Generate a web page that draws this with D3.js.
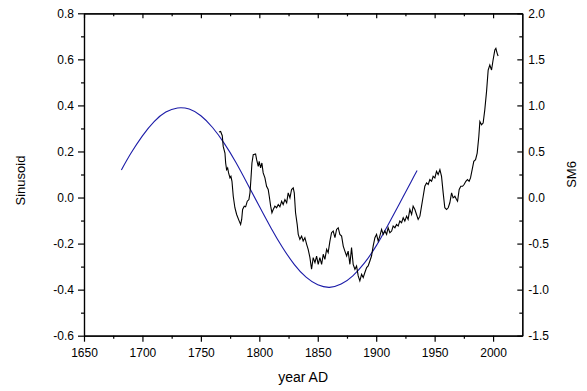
<!DOCTYPE html>
<html>
<head>
<meta charset="utf-8">
<script src="https://cdn.jsdelivr.net/npm/d3@7"></script>
<style>
  body { margin: 0; background: #fff; }
  text { font-family: Arial, "Liberation Sans", sans-serif; }
</style>
</head>
<body>
<div id="chart"></div>
<script>
// sinusoid (left axis)
var sinYears = [1682, 1690, 1700, 1710, 1720, 1730, 1740, 1750, 1760, 1770, 1780, 1790, 1800,
  1810, 1820, 1830, 1840, 1850, 1860, 1870, 1880, 1890, 1900, 1910, 1920, 1930, 1935];
var sinValues = [0.120, 0.191, 0.268, 0.330, 0.371, 0.389, 0.384, 0.355, 0.304, 0.235, 0.152, 0.058, -0.038,
  -0.132, -0.218, -0.291, -0.346, -0.379, -0.390, -0.376, -0.340, -0.284, -0.210, -0.120, -0.026, 0.070, 0.117];

// SM6 (right axis)
var smYears = [1765.5, 1766.9, 1768.3, 1769.1, 1770.6, 1771.2, 1772.0, 1772.9, 1773.7, 1774.9, 1775.7, 1776.6,
  1777.7, 1779.1, 1780.6, 1782.8, 1784.0, 1784.9, 1785.7, 1787.1, 1788.3, 1789.7, 1791.1, 1792.0, 1792.8,
  1793.7, 1794.8, 1796.8, 1797.7, 1799.1, 1799.9, 1801.1, 1802.2, 1803.3, 1804.8, 1806.2, 1807.6, 1808.5,
  1809.7, 1810.8, 1811.9, 1813.3, 1814.8, 1816.2, 1817.6, 1819.1, 1820.4, 1821.9, 1823.4, 1824.7, 1826.2,
  1827.6, 1829.0, 1829.9, 1831.0, 1832.4, 1833.3, 1834.7, 1836.2, 1837.5, 1839.0, 1840.5, 1841.8, 1843.3,
  1844.7, 1846.1, 1847.6, 1849.0, 1850.4, 1851.8, 1853.3, 1854.7, 1856.1, 1857.6, 1858.9, 1860.4, 1861.8,
  1863.2, 1864.7, 1866.1, 1867.5, 1868.9, 1870.4, 1871.8, 1873.2, 1874.7, 1876.0, 1877.5, 1878.9, 1880.3,
  1881.8, 1883.2, 1884.6, 1886.0, 1887.5, 1888.9, 1890.3, 1891.8, 1893.1, 1894.6, 1896.0, 1897.4, 1898.9,
  1900.3, 1901.7, 1903.1, 1904.6, 1906.0, 1907.4, 1908.9, 1910.2, 1911.7, 1913.2, 1914.5, 1916.0, 1917.4,
  1918.8, 1920.2, 1921.7, 1923.1, 1924.5, 1926.0, 1927.3, 1928.8, 1930.3, 1931.6, 1933.1, 1934.5, 1935.9,
  1937.4, 1938.8, 1940.2, 1941.6, 1943.1, 1944.5, 1945.9, 1947.4, 1948.7, 1950.2, 1951.6, 1953.0, 1954.5,
  1955.9, 1957.3, 1958.7, 1960.2, 1961.6, 1963.0, 1964.5, 1965.8, 1967.3, 1968.7, 1969.6, 1971.0, 1972.4,
  1973.9, 1975.2, 1976.7, 1978.1, 1979.5, 1980.7, 1982.1, 1983.5, 1985.0, 1986.4, 1987.8, 1988.7, 1990.1,
  1991.5, 1992.9, 1994.4, 1995.8, 1997.2, 1998.7, 2000.0, 2001.5, 2002.4, 2003.5, 2004.3];
var smValues = [0.711, 0.717, 0.671, 0.555, 0.483, 0.375, 0.303, 0.321, 0.267, 0.213, 0.230, 0.176,
  0.014, -0.111, -0.184, -0.256, -0.292, -0.238, -0.130, -0.094, -0.101, -0.040, -0.022, 0.051, 0.195,
  0.375, 0.465, 0.473, 0.411, 0.339, 0.393, 0.321, 0.375, 0.267, 0.213, 0.122, 0.087, 0.014,
  -0.094, -0.165, -0.130, -0.094, -0.111, -0.076, -0.101, -0.040, -0.076, -0.022, -0.057, 0.051, -0.003,
  0.087, 0.105, 0.051, -0.165, -0.292, -0.400, -0.454, -0.419, -0.473, -0.436, -0.508, -0.562, -0.652,
  -0.779, -0.652, -0.706, -0.635, -0.725, -0.652, -0.725, -0.616, -0.671, -0.562, -0.598, -0.473, -0.382,
  -0.364, -0.436, -0.346, -0.328, -0.400, -0.419, -0.527, -0.581, -0.635, -0.581, -0.725, -0.544, -0.725,
  -0.779, -0.743, -0.851, -0.905, -0.833, -0.868, -0.814, -0.760, -0.743, -0.689, -0.635, -0.527, -0.436,
  -0.400, -0.473, -0.419, -0.346, -0.400, -0.364, -0.400, -0.328, -0.382, -0.364, -0.310, -0.328, -0.292,
  -0.310, -0.256, -0.274, -0.220, -0.256, -0.202, -0.238, -0.130, -0.184, -0.094, -0.130, -0.184, -0.238,
  -0.202, -0.094, 0.014, 0.122, 0.159, 0.141, 0.195, 0.176, 0.230, 0.213, 0.284, 0.249, 0.303,
  0.230, 0.051, -0.111, -0.130, -0.111, -0.057, 0.051, -0.003, 0.014, -0.022, -0.040, 0.087, 0.122,
  0.122, 0.141, 0.176, 0.195, 0.176, 0.213, 0.303, 0.393, 0.411, 0.483, 0.663, 0.825, 0.790,
  0.808, 0.952, 1.150, 1.384, 1.438, 1.384, 1.493, 1.601, 1.619, 1.565, 1.536];

var xTicks = [1650, 1700, 1750, 1800, 1850, 1900, 1950, 2000];
var leftTicks = [-0.6, -0.4, -0.2, 0.0, 0.2, 0.4, 0.6, 0.8];
var rightTicks = [-1.5, -1.0, -0.5, 0.0, 0.5, 1.0, 1.5, 2.0];

var margin = {top: 13.3, right: 64.7, bottom: 55.3, left: 84};
var width = 587 - margin.left - margin.right;
var height = 391 - margin.top - margin.bottom;

var svg = d3.select("#chart")
  .append("svg")
  .attr("width", 587)
  .attr("height", 391)
  .append("g")
  .attr("transform", "translate(" + margin.left + "," + margin.top + ")");

var x = d3.scaleLinear().domain([1650, 2025]).range([0, width]);
var yL = d3.scaleLinear().domain([-0.6, 0.8]).range([height, 0]);
var yR = d3.scaleLinear().domain([-1.5, 2.0]).range([height, 0]);

var fmt = function(d) { return d.toFixed(1); };
var xMinor = d3.range(1675, 2025, 50);
var lMinor = d3.range(-0.5, 0.8, 0.2);
var rMinor = d3.range(-1.25, 2.0, 0.5);

function style(g) {
  g.selectAll("path, line").attr("stroke", "#000").attr("stroke-width", 1.2);
  g.selectAll("text").attr("font-size", 12).attr("fill", "#000")
    .style("font-family", "Arial, 'Liberation Sans', sans-serif");
}

// bottom
svg.append("g").attr("transform", "translate(0," + height + ")")
  .call(d3.axisBottom(x).tickValues(xTicks).tickFormat(d3.format("d")).tickSize(6).tickSizeOuter(0).tickPadding(7))
  .call(style);
svg.append("g").attr("transform", "translate(0," + height + ")")
  .call(d3.axisBottom(x).tickValues(xMinor).tickFormat("").tickSize(3).tickSizeOuter(0))
  .call(style);
// top (ticks inward)
svg.append("g")
  .call(d3.axisTop(x).tickValues(xTicks).tickFormat("").tickSize(-5).tickSizeOuter(0))
  .call(style);
svg.append("g")
  .call(d3.axisTop(x).tickValues(xMinor).tickFormat("").tickSize(-3).tickSizeOuter(0))
  .call(style);
// left
svg.append("g")
  .call(d3.axisLeft(yL).tickValues(leftTicks).tickFormat(fmt).tickSize(6).tickSizeOuter(0).tickPadding(4))
  .call(style);
svg.append("g")
  .call(d3.axisLeft(yL).tickValues(lMinor).tickFormat("").tickSize(3).tickSizeOuter(0))
  .call(style);
// right (ticks inward)
svg.append("g").attr("transform", "translate(" + width + ",0)")
  .call(d3.axisRight(yR).tickValues(rightTicks).tickFormat(fmt).tickSize(-5).tickSizeOuter(0).tickPadding(6))
  .call(style);
svg.append("g").attr("transform", "translate(" + width + ",0)")
  .call(d3.axisRight(yR).tickValues(rMinor).tickFormat("").tickSize(-3).tickSizeOuter(0))
  .call(style);

// sinusoid
var sinLine = d3.line()
  .x(function(d, i) { return x(sinYears[i]); })
  .y(function(d) { return yL(d); })
  .curve(d3.curveNatural);
svg.append("path")
  .datum(sinValues)
  .attr("fill", "none")
  .attr("stroke", "#1c1ca8")
  .attr("stroke-width", 1.1)
  .attr("d", sinLine);

// SM6
var smLine = d3.line()
  .x(function(d, i) { return x(smYears[i]); })
  .y(function(d) { return yR(d); });
svg.append("path")
  .datum(smValues)
  .attr("fill", "none")
  .attr("stroke", "#000")
  .attr("stroke-width", 1.1)
  .attr("d", smLine);

// axis titles
svg.append("text")
  .attr("x", width / 2).attr("y", height + 46)
  .attr("text-anchor", "middle").attr("font-size", 14)
  .text("year AD");
svg.append("text")
  .attr("transform", "translate(" + (-59) + "," + (height / 2 + 6) + ") rotate(-90)")
  .attr("text-anchor", "middle").attr("font-size", 13)
  .text("Sinusoid");
svg.append("text")
  .attr("transform", "translate(" + (width + 54) + "," + (height / 2) + ") rotate(-90)")
  .attr("text-anchor", "middle").attr("font-size", 13)
  .text("SM6");
</script>
</body>
</html>
